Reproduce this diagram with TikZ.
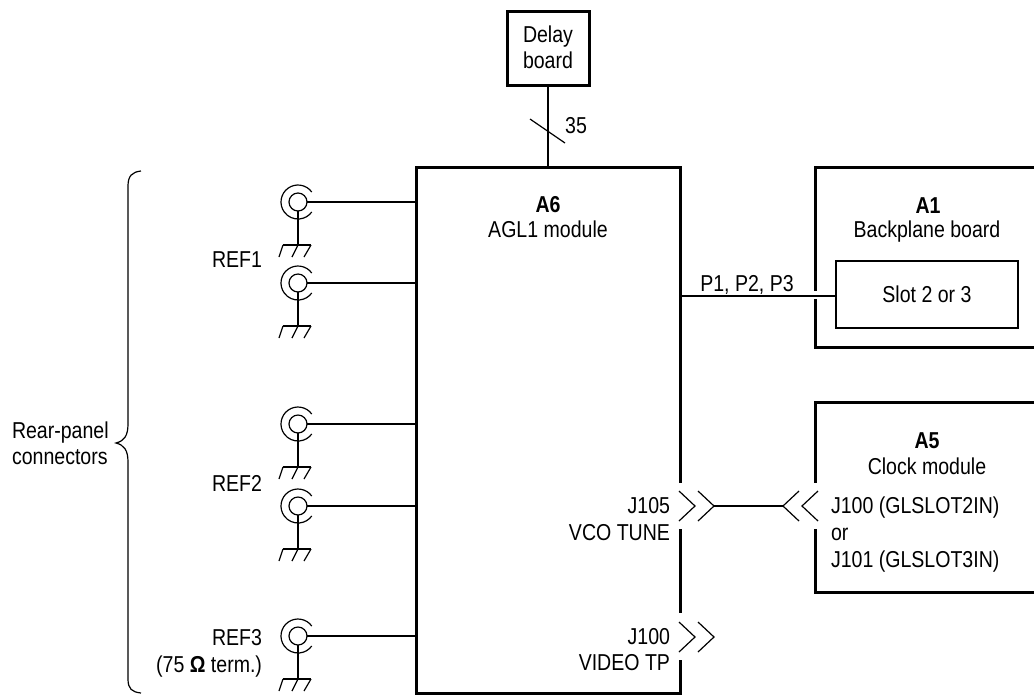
\documentclass[tikz,border=0pt]{standalone}
\usepackage{fontspec}
\setmainfont[FakeStretch=0.85]{Liberation Sans}
\usetikzlibrary{arrows.meta}

\tikzset{
  coax/.pic={
    \node[circle,draw,wire,minimum size=9pt,inner sep=0pt,outer sep=0pt] (-in) at (0,0) {};
    \draw[wire] (36:8.5pt) arc[start angle=36,end angle=324,radius=8.5pt];
    \draw[wire] (-in.south) -- (0,43);
    \draw[wire] (-15,43) -- (13,43);
    \draw[wire] (-15,43) -- (-19,55);
    \draw[wire] (0,43) -- (-6,55);
    \draw[wire] (13,43) -- (6,55);
  },
  jack/.pic={
    \draw[wire] (0,-15) -- (16,0) -- (0,15);
    \draw[wire] (19,-15) -- (35,0) -- (19,15);
    \coordinate (-tip) at (35,0);
  }
}

\begin{document}
\begin{tikzpicture}[
  x=0.5pt,y=-0.5pt,
  wire/.style={line width=0.6pt,black},
  heavy/.style={line width=1.5pt,black},
  block/.style={rectangle,draw,heavy,inner sep=0pt,outer sep=0pt,align=center},
  every node/.style={font=\fontsize{11.5}{13}\selectfont},
  lbl/.style={inner sep=0pt,outer sep=0pt,anchor=base},
  lblr/.style={inner sep=0pt,outer sep=0pt,anchor=base east},
  lbll/.style={inner sep=0pt,outer sep=0pt,anchor=base west}
]
  \useasboundingbox (0,0) rectangle (1034,698);

  % blocks
  \node[block,minimum width=41pt,minimum height=37pt] (delay) at (548,48) {\raisebox{1pt}{Delay}\\\raisebox{1pt}{board}};
  \node[block,minimum width=132pt,minimum height=263pt] (a6) at (548,430) {};
  \node[block,line width=0.6pt,minimum width=91pt,minimum height=33.5pt] (slot) at (927,294.5) {\raisebox{-1.5pt}{Slot 2 or 3}};
  \draw[white,line width=3pt] (680,483) -- (680,529);
  \draw[white,line width=3pt] (680,613) -- (680,660);

  \draw[heavy] (1034,167) -- (815,167) -- (815,291);
  \draw[heavy] (815,299) -- (815,347) -- (1034,347);
  \draw[heavy] (1034,402) -- (815,402) -- (815,483);
  \draw[heavy] (815,529) -- (815,592) -- (1034,592);

  % labels in blocks
  \node[lbl] (a6t) at (548,212) {\textbf{A6}};
  \node[lbl] (a6n) at (548,237) {AGL1 module};
  \node[lbl] (a1t) at (928,213) {\textbf{A1}};
  \node[lbl] (a1n) at (927,237) {Backplane board};
  \node[lbl] (a5t) at (927,448) {\textbf{A5}};
  \node[lbl] (a5n) at (927,474) {Clock module};
  \node[lbll] (j100a) at (831,513) {J100 (GLSLOT2IN)};
  \node[lbll] (jor) at (831,540) {or};
  \node[lbll] (j101) at (831,567) {J101 (GLSLOT3IN)};
  \node[lblr] (j105t) at (670,513) {J105};
  \node[lblr] (vco) at (670,540) {VCO TUNE};
  \node[lblr] (j100t) at (670,644) {J100};
  \node[lblr] (vid) at (670,670) {VIDEO TP};

  % delay bus
  \draw[wire] (delay) -- (a6.north);
  \draw[wire] (530,119) -- (565,143);
  \node[lbl] (n35) at (576,133) {35};

  % coax connectors
  \pic (c1) at (298,202) {coax};
  \pic (c2) at (298,283) {coax};
  \pic (c3) at (298,424) {coax};
  \pic (c4) at (298,506) {coax};
  \pic (c5) at (298,636) {coax};
  \draw[wire] (c1-in.east) -- (c1-in.east -| a6.west);
  \draw[wire] (c2-in.east) -- (c2-in.east -| a6.west);
  \draw[wire] (c3-in.east) -- (c3-in.east -| a6.west);
  \draw[wire] (c4-in.east) -- (c4-in.east -| a6.west);
  \draw[wire] (c5-in.east) -- (c5-in.east -| a6.west);
  \node[lblr] (ref1) at (262,267) {REF1};
  \node[lblr] (ref2) at (262,491) {REF2};
  \node[lblr] (ref3) at (262,645) {REF3};
  \node[lblr] (term) at (262,672) {(75 \textbf{Ω} term.)};

  % brace
  \draw[wire] (141,171) .. controls (132,172) and (128,176) .. (128,186)
    -- (128,424) .. controls (128,436) and (124,441) .. (116,443)
    .. controls (124,445) and (128,450) .. (128,462)
    -- (128,679) .. controls (128,689) and (132,692) .. (141,693);
  \node[lbll] (rear1) at (12,438) {Rear-panel};
  \node[lbll] (rear2) at (12,464) {connectors};

  % backplane link
  \coordinate (p1) at (680,296);
  \draw[wire] (p1) -- (slot.west |- p1);
  \node[lbl] (p123) at (747,291) {P1, P2, P3};

  % jacks
  \pic (j105) at (679,506) {jack};
  \pic[xscale=-1] (j100b) at (818,506) {jack};
  \pic (j100v) at (679,637) {jack};
  \draw[wire] (j105-tip) -- (j100b-tip);
\end{tikzpicture}
\end{document}
